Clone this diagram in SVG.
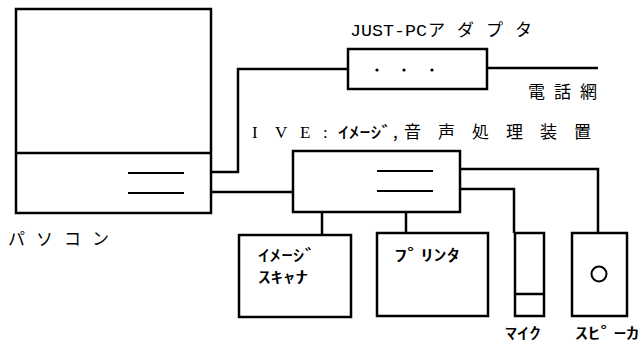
<svg xmlns="http://www.w3.org/2000/svg" width="642" height="344" viewBox="0 0 642 344">
<style>
.box{fill:#fff;stroke:#000;stroke-width:2.5}
.ln{fill:none;stroke:#000;stroke-width:2.5}
.tl{fill:none;stroke:#000;stroke-width:2}
.jp{font-family:"Noto Sans CJK JP","Noto Sans",sans-serif;font-size:17px;fill:#000}
.hk{font-family:"Noto Sans CJK JP",sans-serif;font-size:16px;font-weight:500;fill:#000}
.mono{font-family:"Liberation Mono",monospace;font-size:17px;fill:#000}
.ser{font-family:"Liberation Serif",serif;font-size:17px;fill:#000}
</style>
<rect width="642" height="344" fill="#fff"/>
<g id="connectors">
<polyline class="ln" points="211,172 238,172 238,69 348,69"/>
<line class="ln" x1="487" y1="68" x2="598" y2="68"/>
<line class="ln" x1="211" y1="192" x2="293" y2="192"/>
<polyline class="ln" points="460,169 598,169 598,233"/>
<polyline class="ln" points="460,189 514,189 514,233"/>
<line class="ln" x1="322" y1="212" x2="322" y2="235"/>
<line class="ln" x1="406" y1="212" x2="406" y2="233"/>
</g>
<g id="pc">
<rect class="box" x="16" y="9" width="195" height="204"/>
<line class="ln" x1="16" y1="153" x2="211" y2="153"/>
<line class="tl" x1="128" y1="173" x2="184" y2="173"/>
<line class="tl" x1="128" y1="193" x2="184" y2="193"/>
<text class="jp" x="8" y="245" letter-spacing="11">パソコン</text>
</g>
<g id="adapter">
<rect class="box" x="348" y="49" width="139" height="40"/>
<circle cx="377" cy="70" r="1.6"/>
<circle cx="404" cy="70" r="1.6"/>
<circle cx="432" cy="70" r="1.6"/>
<text class="mono" x="350" y="36" textLength="77" lengthAdjust="spacingAndGlyphs">JUST-PC</text>
<text class="jp" x="428" y="36" letter-spacing="12">アダプタ</text>
</g>
<g id="network">
<text class="jp" x="528" y="98" letter-spacing="9">電話網</text>
</g>
<g id="ive">
<rect class="box" x="293" y="151" width="167" height="61"/>
<line class="tl" x1="377" y1="171" x2="433" y2="171"/>
<line class="tl" x1="377" y1="191" x2="433" y2="191"/>
<text class="ser" y="138"><tspan x="252">I</tspan><tspan x="275">V</tspan><tspan x="300">E</tspan><tspan x="323">:</tspan></text>
<text class="hk" x="338" y="138" textLength="54" lengthAdjust="spacingAndGlyphs">ｲﾒｰｼﾞ</text>
<text class="jp" x="393" y="138">,</text>
<text class="jp" y="138"><tspan x="404">音</tspan><tspan x="438">声</tspan><tspan x="472">処</tspan><tspan x="506">理</tspan><tspan x="540">装</tspan><tspan x="574">置</tspan></text>
</g>
<g id="scanner">
<rect class="box" x="239" y="235" width="112" height="82"/>
<text class="hk" x="258" y="261" textLength="58" lengthAdjust="spacingAndGlyphs">ｲﾒｰｼﾞ</text>
<text class="hk" x="258" y="283" textLength="50" lengthAdjust="spacingAndGlyphs">ｽｷｬﾅ</text>
</g>
<g id="printer">
<rect class="box" x="377" y="233" width="111" height="83"/>
<text class="hk" x="394" y="261" textLength="66" lengthAdjust="spacingAndGlyphs">ﾌﾟﾘﾝﾀ</text>
</g>
<g id="mic">
<rect class="box" x="515" y="233" width="29" height="83"/>
<line class="ln" x1="515" y1="294" x2="544" y2="294"/>
<text class="hk" x="505" y="339" textLength="36" lengthAdjust="spacingAndGlyphs">ﾏｲｸ</text>
</g>
<g id="speaker">
<rect class="box" x="572" y="233" width="55" height="83"/>
<circle class="tl" cx="599" cy="274" r="7.5"/>
<text class="hk" x="575" y="339" textLength="64" lengthAdjust="spacingAndGlyphs">ｽﾋﾟｰｶ</text>
</g>
</svg>
